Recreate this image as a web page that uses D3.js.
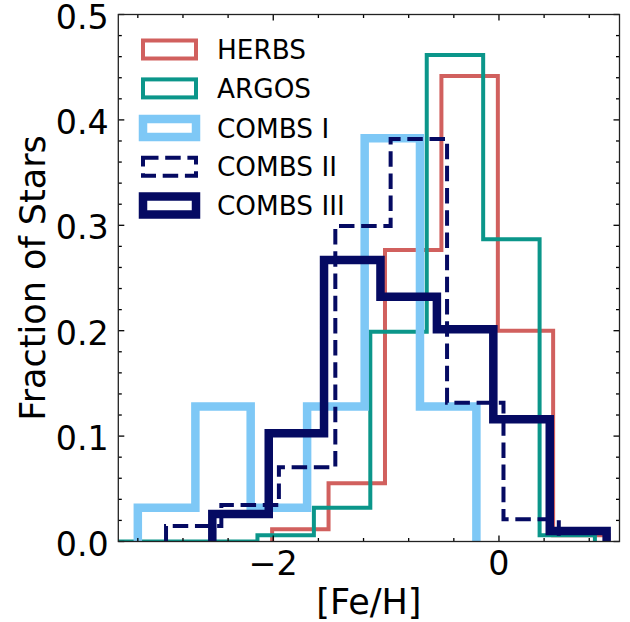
<!DOCTYPE html>
<html>
<head>
<meta charset="utf-8">
<script src="https://cdn.jsdelivr.net/npm/d3@7"></script>
<style>
  body { margin: 0; background: #fff; }
  text { font-family: "DejaVu Sans", sans-serif; fill: #000; }
</style>
</head>
<body>
<div id="chart"></div>
<script>
// histogram bin edges ([Fe/H]) and fraction of stars per bin
const herbsEdges = [-2.01, -1.51, -1.01, -0.51, -0.01, 0.48, 0.97];
const herbsFrac = [0.0116, 0.0552, 0.2766, 0.4417, 0.2, 0.006];

const argosEdges = [-3.64, -3.14, -2.64, -2.14, -1.64, -1.14, -0.64, -0.14, 0.36, 0.85];
const argosFrac = [0, 0, 0, 0.006, 0.032, 0.199, 0.4616, 0.2867, 0.006];

const combs1Edges = [-3.2, -2.69, -2.2, -1.7, -1.19, -0.7, -0.2];
const combs1Frac = [0.032, 0.128, 0.032, 0.128, 0.3826, 0.128];

const combs2Edges = [-2.95, -2.46, -1.95, -1.45, -0.96, -0.46, 0.04, 0.53];
const combs2Frac = [0.0147, 0.0346, 0.0704, 0.2993, 0.3819, 0.1317, 0.021];

const combs3Edges = [-2.54, -2.04, -1.55, -1.05, -0.55, -0.05, 0.45, 0.954];
const combs3Frac = [0.0261, 0.1027, 0.2671, 0.2323, 0.2013, 0.1159, 0.01];

const seriesNames = ["HERBS", "ARGOS", "COMBS I", "COMBS II", "COMBS III"];
const xTicks = [-2, 0];
const yTicks = [0.0, 0.1, 0.2, 0.3, 0.4, 0.5];

const series = [
  { name: seriesNames[0], edges: herbsEdges, frac: herbsFrac, color: "#d1605e", width: 4, dash: null },
  { name: seriesNames[1], edges: argosEdges, frac: argosFrac, color: "#0b968a", width: 4, dash: null },
  { name: seriesNames[2], edges: combs1Edges, frac: combs1Frac, color: "#7ec8f6", width: 8.5, dash: null },
  { name: seriesNames[3], edges: combs2Edges, frac: combs2Frac, color: "#050a62", width: 4, dash: "15.5,6.7" },
  { name: seriesNames[4], edges: combs3Edges, frac: combs3Frac, color: "#050a62", width: 8.5, dash: null }
];

const width = 630, height = 622;
const margin = { top: 14.5, right: 10.5, bottom: 80.5, left: 118.3 };
const iw = width - margin.left - margin.right;
const ih = height - margin.top - margin.bottom;

const svg = d3.select("#chart").append("svg")
  .attr("width", width)
  .attr("height", height);

const x = d3.scaleLinear().domain([-3.373, 1.068]).range([0, iw]);
const y = d3.scaleLinear().domain([0, 0.5]).range([ih, 0]);

const g = svg.append("g").attr("transform", `translate(${margin.left},${margin.top})`);

g.append("clipPath").attr("id", "clip")
  .append("rect").attr("width", iw).attr("height", ih);

// step outline of a histogram
function stepPoints(edges, frac) {
  const pts = [[edges[0], 0]];
  frac.forEach((f, i) => {
    pts.push([edges[i], f]);
    pts.push([edges[i + 1], f]);
  });
  pts.push([edges[edges.length - 1], 0]);
  return pts;
}

const line = d3.line().x(d => x(d[0])).y(d => y(d[1]));

const plot = g.append("g").attr("clip-path", "url(#clip)");
plot.selectAll("path.hist")
  .data(series)
  .enter().append("path")
  .attr("class", "hist")
  .attr("d", d => line(stepPoints(d.edges, d.frac)))
  .attr("fill", "none")
  .attr("stroke", d => d.color)
  .attr("stroke-width", d => d.width)
  .attr("stroke-dasharray", d => d.dash)
  .attr("stroke-linejoin", "miter");

// ticks (inward, all four sides)
const xMinor = d3.range(-3.2, 1.01, 0.4).filter(v => !xTicks.some(t => Math.abs(t - v) < 1e-6));
const yMinor = d3.range(0, 0.5001, 0.02).filter(v => !yTicks.some(t => Math.abs(t - v) < 1e-6));

function drawTicks(vals, len) {
  const t = g.append("g").attr("stroke", "#000").attr("stroke-width", 1.3);
  vals.x.forEach(v => {
    t.append("line").attr("x1", x(v)).attr("x2", x(v)).attr("y1", ih).attr("y2", ih - len);
    t.append("line").attr("x1", x(v)).attr("x2", x(v)).attr("y1", 0).attr("y2", len);
  });
  vals.y.forEach(v => {
    t.append("line").attr("y1", y(v)).attr("y2", y(v)).attr("x1", 0).attr("x2", len);
    t.append("line").attr("y1", y(v)).attr("y2", y(v)).attr("x1", iw).attr("x2", iw - len);
  });
}
drawTicks({ x: xTicks, y: yTicks }, 6);
drawTicks({ x: xMinor, y: yMinor }, 3.5);

g.append("rect")
  .attr("width", iw).attr("height", ih)
  .attr("fill", "none").attr("stroke", "#222").attr("stroke-width", 1.3);

// tick labels
g.selectAll("text.xt")
  .data(xTicks)
  .enter().append("text")
  .attr("x", d => x(d))
  .attr("y", ih + 33.5)
  .attr("text-anchor", "middle")
  .style("font-size", "33.3px")
  .text(d => d < 0 ? "\u2212" + Math.abs(d) : d);

g.selectAll("text.yt")
  .data(yTicks)
  .enter().append("text")
  .attr("x", -9.5)
  .attr("y", d => y(d) + 14)
  .attr("text-anchor", "end")
  .style("font-size", "33.3px")
  .text(d => d.toFixed(1));

// axis labels
svg.append("text")
  .attr("x", margin.left + iw / 2)
  .attr("y", 613.5)
  .attr("text-anchor", "middle")
  .style("font-size", "35px")
  .text("[Fe/H]");

svg.append("text")
  .attr("transform", `translate(45, ${margin.top + ih / 2}) rotate(-90)`)
  .attr("text-anchor", "middle")
  .style("font-size", "35px")
  .text("Fraction of Stars");

// legend
const legend = svg.append("g");
const rowY = [49.5, 88.4, 128, 166.7, 205.5];
series.forEach((s, i) => {
  legend.append("rect")
    .attr("x", 143).attr("y", rowY[i] - 9)
    .attr("width", 53).attr("height", 18)
    .attr("fill", "none")
    .attr("stroke", s.color)
    .attr("stroke-width", s.width)
    .attr("stroke-dasharray", s.dash);
  legend.append("text")
    .attr("x", 217)
    .attr("y", rowY[i] + 9.5)
    .style("font-size", "26.3px")
    .text(s.name);
});
</script>
</body>
</html>
